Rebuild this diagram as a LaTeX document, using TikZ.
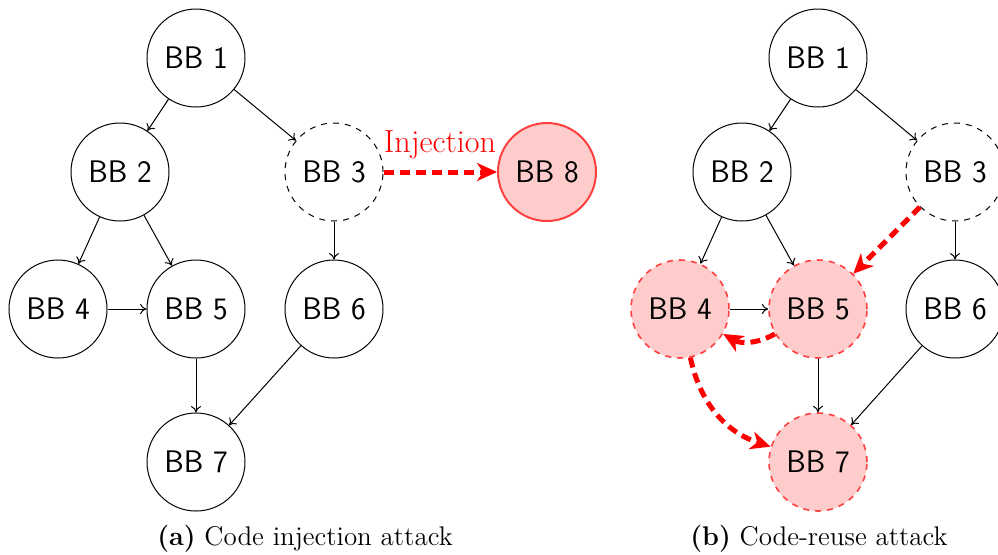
\documentclass[tikz,border=0pt]{standalone}
\usepackage{fontspec}
\usetikzlibrary{arrows.meta}
\begin{document}
\begin{tikzpicture}[x=0.5pt,y=-0.5pt,
  bb/.style={circle,draw,line width=0.5pt,minimum size=49pt,inner sep=0pt,
    font=\sffamily\fontsize{15.6}{18}\selectfont},
  bbdash/.style={bb,dashed},
  bbinj/.style={bb,draw=red!75,fill=red!20,line width=1pt},
  bbhit/.style={bb,draw=red!75,fill=red!20,dashed,line width=0.8pt},
  flow/.style={-{To[length=3.2pt,width=5pt]},line width=0.5pt},
  attack/.style={-{Stealth[length=10pt,width=9pt,inset=3pt]},red,line width=2.5pt,dash pattern=on 5pt off 3pt},
  capt/.style={font=\fontsize{13.5}{16}\selectfont,anchor=base}]
\useasboundingbox (0,0) rectangle (998,554);

% Code injection attack
\node[bb] (a1) at (196,58) {BB 1};
\node[bb] (a2) at (120,172) {BB 2};
\node[bbdash] (a3) at (334,172) {BB 3};
\node[bbinj] (a8) at (547,172) {BB 8};
\node[bb] (a4) at (58,309) {BB 4};
\node[bb] (a5) at (196,309) {BB 5};
\node[bb] (a6) at (334,309) {BB 6};
\node[bb] (a7) at (196,462) {BB 7};
\draw[flow] (a1) -- (a2);
\draw[flow] (a1) -- (a3);
\draw[flow] (a2) -- (a4);
\draw[flow] (a2) -- (a5);
\draw[flow] (a4) -- (a5);
\draw[flow] (a3) -- (a6);
\draw[flow] (a5) -- (a7);
\draw[flow] (a6) -- (a7);
\draw[attack] (a3) -- (a8);
\node[red,anchor=base,font=\fontsize{16}{18}\selectfont,inner sep=0pt] (inj) at (440,152) {Injection};
\node[capt] (capa) at (305,545) {\textbf{(a)} Code injection attack};

% Code-reuse attack
\node[bb] (b1) at (818,58) {BB 1};
\node[bb] (b2) at (742,172) {BB 2};
\node[bbdash] (b3) at (955,172) {BB 3};
\node[bbhit] (b4) at (680,309) {BB 4};
\node[bbhit] (b5) at (818,309) {BB 5};
\node[bb] (b6) at (955,309) {BB 6};
\node[bbhit] (b7) at (818,462) {BB 7};
\draw[flow] (b1) -- (b2);
\draw[flow] (b1) -- (b3);
\draw[flow] (b2) -- (b4);
\draw[flow] (b2) -- (b5);
\draw[flow] (b4) -- (b5);
\draw[flow] (b3) -- (b6);
\draw[flow] (b5) -- (b7);
\draw[flow] (b6) -- (b7);
\draw[attack] (b3) -- (b5);
\draw[attack] (b5) to[bend left=30] (b4);
\draw[attack] (b4) to[bend right=30] (b7);
\node[capt] (capb) at (819,545) {\textbf{(b)} Code-reuse attack};
\end{tikzpicture}
\end{document}
